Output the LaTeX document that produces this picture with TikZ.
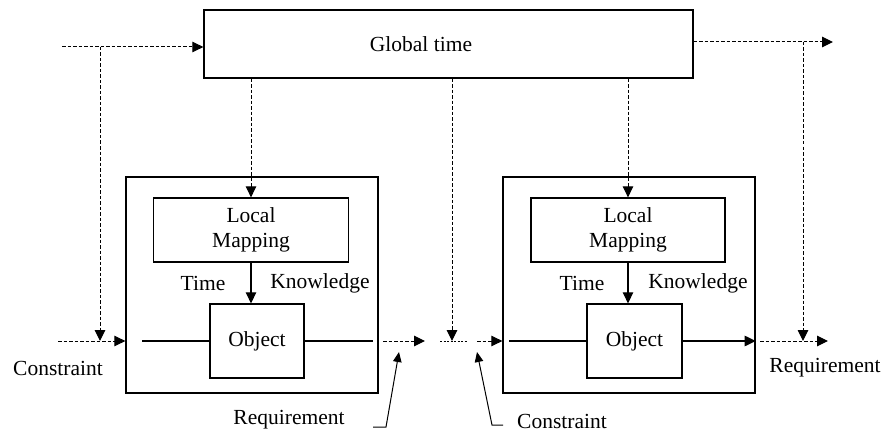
\documentclass[tikz,border=0pt]{standalone}
\usepackage{fontspec}
\setmainfont{Liberation Serif}
\usetikzlibrary{arrows.meta}
\begin{document}
\begin{tikzpicture}[x=1pt,y=-1pt,
  box/.style={draw,line width=1.3pt,inner sep=0pt,font=\fontsize{21.5}{25}\selectfont,align=center},
  lbl/.style={inner sep=0pt,font=\fontsize{21.5}{25}\selectfont},
  tip/.style={-{Triangle[length=11pt,width=10.5pt]}},
  dsh/.style={line width=1pt,dash pattern=on 3.5pt off 2pt},
  solidln/.style={line width=1.2pt},
  thin dots/.style={line width=0.6pt,dash pattern=on 2pt off 1.5pt},
  leader/.style={line width=1pt,-{Triangle[length=10pt,width=8.5pt]}}]
\useasboundingbox (0,0) rectangle (883,433);
% boxes
\node[box,minimum width=489pt,minimum height=68pt] (gt) at (448.5,44) {};
\node[lbl] (gtt) at (421,44) {Global time};
\node[box,minimum width=252pt,minimum height=216pt] (outL) at (252,285) {};
\node[box,minimum width=195pt,minimum height=64pt] (lmL) at (251,230) {Local\\Mapping};
\node[box,minimum width=94pt,minimum height=74pt] (objL) at (257,341) {Object};
\node[box,minimum width=252pt,minimum height=216pt] (outR) at (629,285) {};
\node[box,minimum width=194pt,minimum height=64pt] (lmR) at (628,230) {Local\\Mapping};
\node[box,minimum width=95pt,minimum height=74pt] (objR) at (634.5,341) {Object};
% labels
\node[lbl] (timeL) at (203,283) {Time};
\node[lbl] (knowL) at (320,283) {Knowledge};
\node[lbl] (timeR) at (582,283) {Time};
\node[lbl] (knowR) at (698,283) {Knowledge};
\node[lbl] (conL) at (58,368) {Constraint};
\node[lbl] (reqM) at (289,420) {Requirement};
\node[lbl] (conM) at (562,421) {Constraint};
\node[lbl] (reqR) at (825,368) {Requirement};
% coordinates
\coordinate (inTL) at (62,47);
\coordinate (vTL) at (100,47);
\coordinate (vTLb) at (100,341);
\coordinate (inL) at (58,341);
\coordinate (lnL1) at (142,341);
\coordinate (lnL2) at (373,341);
\coordinate (outA) at (383,341);
\coordinate (outB) at (425,341);
\coordinate (dotA) at (440,341);
\coordinate (dotB) at (467,341);
\coordinate (midV) at (452,341);
\coordinate (inR) at (477,341);
\coordinate (lnR1) at (509,341);
\coordinate (outRA) at (760,341);
\coordinate (outRB) at (828,341);
\coordinate (vTR) at (803,42);
\coordinate (vTRb) at (803,341);
\coordinate (topR) at (833,42);
\coordinate (L1a) at (373,427);
\coordinate (L1b) at (386,427);
\coordinate (L1c) at (399,352);
\coordinate (L2a) at (503,425);
\coordinate (L2b) at (492,425);
\coordinate (L2c) at (477,352);
% top connectors
\draw[dsh,tip] (inTL) -- (inTL -| gt.west);
\draw[dsh,tip] (vTL) -- (vTLb);
\draw[dsh,tip] (inL) -- (inL -| outL.west);
\draw[dsh,tip] (gt.south -| lmL.north) -- (lmL.north);
\draw[dsh,tip] (gt.south -| midV) -- (midV);
\draw[dsh,tip] (gt.south -| lmR.north) -- (lmR.north);
\draw[dsh,tip] (vTR -| gt.east) -- (topR);
\draw[dsh,tip] (vTR) -- (vTRb);
% inside left
\draw[solidln,tip] (lmL.south) -- (lmL.south |- objL.north);
\draw[solidln] (lnL1) -- (objL.west);
\draw[solidln] (objL.east) -- (lnL2);
\draw[dsh,tip] (outA) -- (outB);
\draw[thin dots] (dotA) -- (dotB);
\draw[dsh,tip] (inR) -- (inR -| outR.west);
% inside right
\draw[solidln,tip] (lmR.south) -- (lmR.south |- objR.north);
\draw[solidln] (lnR1) -- (objR.west);
\draw[solidln,tip] (objR.east) -- (objR.east -| outR.east);
\draw[dsh,tip] (outRA) -- (outRB);
% leaders
\draw[leader] (L1a) -- (L1b) -- (L1c);
\draw[leader] (L2a) -- (L2b) -- (L2c);
\end{tikzpicture}
\end{document}
